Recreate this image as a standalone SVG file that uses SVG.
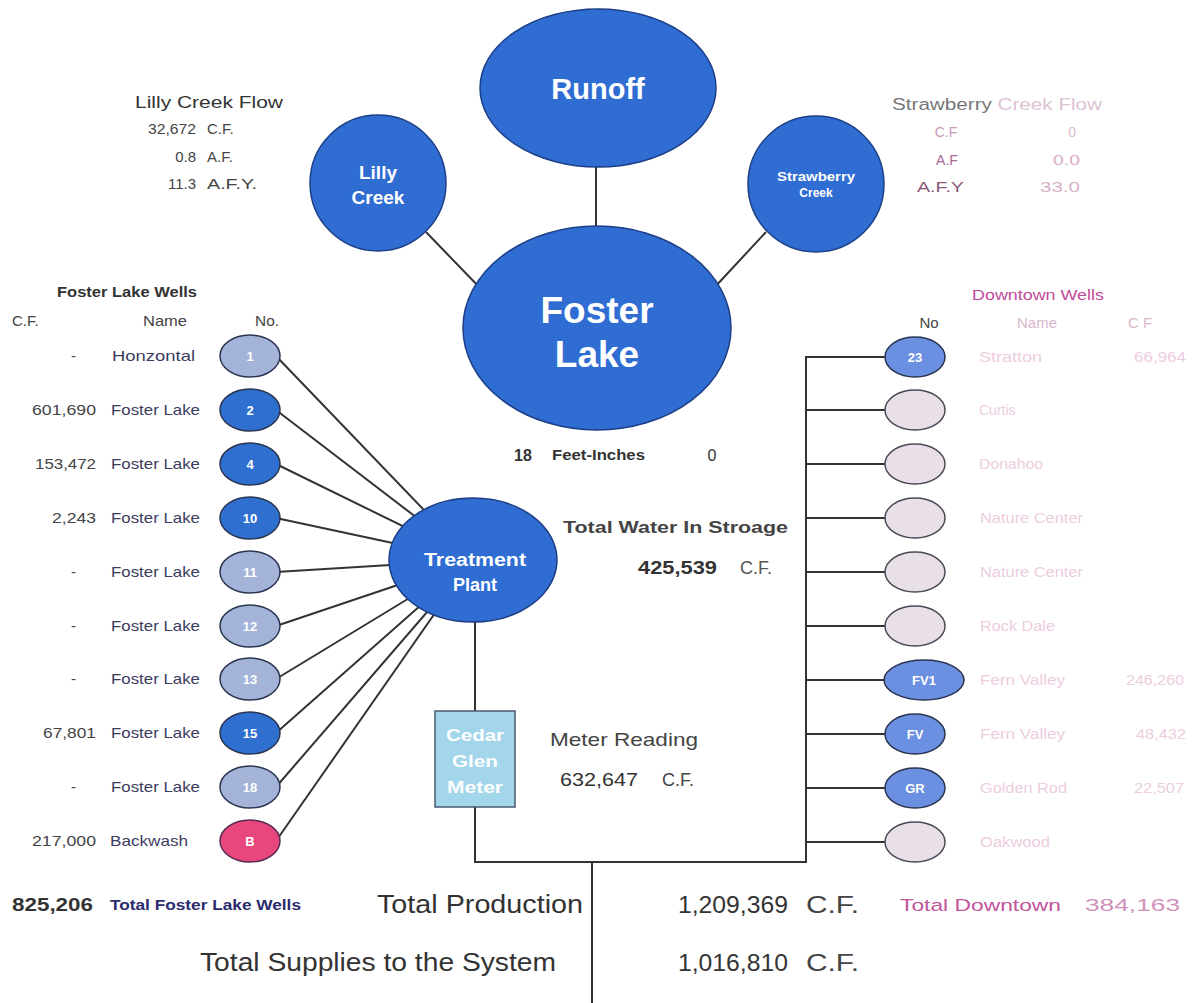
<svg xmlns="http://www.w3.org/2000/svg" width="1194" height="1003" viewBox="0 0 1194 1003">
<style>
text{font-family:"Liberation Sans",Arial,sans-serif;}
.big{fill:#2f6dd3;stroke:#1d3f86;stroke-width:1.5;}
.wt{fill:#fff;font-weight:bold;text-anchor:middle;}
.ln{stroke:#333;stroke-width:2;fill:none;}
.wb{fill:#2f6fd0;stroke:#2a3550;stroke-width:1.5;}
.wg{fill:#a3b4d8;stroke:#2a3550;stroke-width:1.5;}
.wp{fill:#e8477d;stroke:#5a2a55;stroke-width:1.5;}
.dl{fill:#e9dfe8;stroke:#4a4a55;stroke-width:1.5;}
.dm{fill:#6b90e2;stroke:#2a3550;stroke-width:1.5;}
.nm{font-size:15px;fill:#3b3b5e;}
.cf{font-size:15px;fill:#444;text-anchor:end;}
.fd{font-size:14px;fill:#edcde0;}
.fv{font-size:14px;fill:#edcde0;text-anchor:end;}
.wn{font-size:13px;fill:#fff;font-weight:bold;text-anchor:middle;}
.dk{fill:#333;}
</style>
<rect width="1194" height="1003" fill="#fff"/>

<g id="connectors">
  <line class="ln" x1="596" y1="160" x2="596" y2="230"/>
  <line class="ln" x1="426" y1="232" x2="482" y2="290"/>
  <line class="ln" x1="766" y1="232" x2="714" y2="288"/>
  <line class="ln" x1="276" y1="356" x2="472" y2="560"/>
  <line class="ln" x1="276" y1="410" x2="472" y2="560"/>
  <line class="ln" x1="276" y1="464" x2="472" y2="560"/>
  <line class="ln" x1="276" y1="518" x2="472" y2="560"/>
  <line class="ln" x1="276" y1="572" x2="472" y2="560"/>
  <line class="ln" x1="276" y1="626" x2="472" y2="560"/>
  <line class="ln" x1="276" y1="679" x2="472" y2="560"/>
  <line class="ln" x1="276" y1="733" x2="472" y2="560"/>
  <line class="ln" x1="276" y1="787" x2="472" y2="560"/>
  <line class="ln" x1="276" y1="841" x2="472" y2="560"/>
  <polyline class="ln" points="475,600 475,862 806,862 806,357 888,357"/>
  <line class="ln" x1="806" y1="410" x2="888" y2="410"/>
  <line class="ln" x1="806" y1="464" x2="888" y2="464"/>
  <line class="ln" x1="806" y1="518" x2="888" y2="518"/>
  <line class="ln" x1="806" y1="572" x2="888" y2="572"/>
  <line class="ln" x1="806" y1="626" x2="888" y2="626"/>
  <line class="ln" x1="806" y1="680" x2="888" y2="680"/>
  <line class="ln" x1="806" y1="734" x2="888" y2="734"/>
  <line class="ln" x1="806" y1="788" x2="888" y2="788"/>
  <line class="ln" x1="806" y1="842" x2="888" y2="842"/>
  <line class="ln" x1="592" y1="862" x2="592" y2="1003"/>
</g>

<g id="runoff"><ellipse class="big" cx="598" cy="88" rx="118" ry="79"/><text class="wt" x="598" y="99" font-size="29">Runoff</text></g>
<g id="lilly-creek"><ellipse class="big" cx="378" cy="183" rx="68" ry="68"/><text class="wt" x="378" y="179" font-size="19">Lilly</text><text class="wt" x="378" y="204" font-size="19">Creek</text></g>
<g id="strawberry-creek"><ellipse class="big" cx="816" cy="184" rx="68" ry="68"/><text class="wt" x="816" y="181" font-size="12" textLength="78" lengthAdjust="spacingAndGlyphs">Strawberry</text><text class="wt" x="816" y="197" font-size="12">Creek</text></g>
<g id="foster-lake"><ellipse class="big" cx="597" cy="328" rx="134" ry="102"/><text class="wt" x="597" y="323" font-size="37">Foster</text><text class="wt" x="597" y="367" font-size="37">Lake</text></g>
<g id="treatment-plant"><ellipse class="big" cx="473" cy="560" rx="84" ry="62"/><text class="wt" x="475" y="566" font-size="18" textLength="102" lengthAdjust="spacingAndGlyphs">Treatment</text><text class="wt" x="475" y="591" font-size="18">Plant</text></g>
<g id="cedar-glen-meter"><rect x="435" y="711" width="80" height="96" fill="#a3d6ea" stroke="#4a5a70" stroke-width="1.5"/><text class="wt" x="475" y="741" font-size="17" fill="#eef8fc" textLength="58" lengthAdjust="spacingAndGlyphs">Cedar</text><text class="wt" x="475" y="767" font-size="17" fill="#eef8fc" textLength="46" lengthAdjust="spacingAndGlyphs">Glen</text><text class="wt" x="475" y="793" font-size="17" fill="#eef8fc" textLength="56" lengthAdjust="spacingAndGlyphs">Meter</text></g>

<g id="lilly-flow">
  <text x="135" y="108" font-size="16" class="dk" textLength="148" lengthAdjust="spacingAndGlyphs">Lilly Creek Flow</text>
  <text x="196" y="134" font-size="15" fill="#444" text-anchor="end" textLength="48" lengthAdjust="spacingAndGlyphs">32,672</text><text x="207" y="134" font-size="15" fill="#444">C.F.</text>
  <text x="196" y="162" font-size="15" fill="#444" text-anchor="end">0.8</text><text x="207" y="162" font-size="15" fill="#444">A.F.</text>
  <text x="196" y="189" font-size="15" fill="#444" text-anchor="end">11.3</text><text x="207" y="189" font-size="15" fill="#444" textLength="50" lengthAdjust="spacingAndGlyphs">A.F.Y.</text>
</g>
<g id="strawberry-flow">
  <text x="892" y="110" font-size="16" fill="#777" textLength="210" lengthAdjust="spacingAndGlyphs">Strawberry <tspan fill="#dcc2d4">Creek Flow</tspan></text>
  <text x="946" y="137" font-size="14" fill="#c99ab8" text-anchor="middle">C.F</text><text x="1076" y="137" font-size="14" fill="#dcb8cc" text-anchor="end">0</text>
  <text x="947" y="165" font-size="14" fill="#a66a90" text-anchor="middle">A.F</text><text x="1080" y="165" font-size="14" fill="#d8b0c8" text-anchor="end" textLength="27" lengthAdjust="spacingAndGlyphs">0.0</text>
  <text x="917" y="192" font-size="14" fill="#8a5a7a" textLength="47" lengthAdjust="spacingAndGlyphs">A.F.Y</text><text x="1080" y="192" font-size="14" fill="#d8b0c8" text-anchor="end" textLength="40" lengthAdjust="spacingAndGlyphs">33.0</text>
</g>

<g id="foster-wells-header">
  <text x="57" y="297" font-size="15" fill="#333" font-weight="bold" textLength="140" lengthAdjust="spacingAndGlyphs">Foster Lake Wells</text>
  <text x="12" y="326" font-size="15" fill="#444">C.F.</text>
  <text x="143" y="326" font-size="15" fill="#444" textLength="44" lengthAdjust="spacingAndGlyphs">Name</text>
  <text x="255" y="326" font-size="15" fill="#444" textLength="24" lengthAdjust="spacingAndGlyphs">No.</text>
</g>
<g id="well-1"><text class="cf" x="76" y="361">-</text><text class="nm" x="112" y="361" textLength="83" lengthAdjust="spacingAndGlyphs">Honzontal</text><ellipse class="wg" cx="250" cy="356" rx="30" ry="21" fill="#b1bfe0"/><text class="wn" x="250" y="361">1</text></g>
<g id="well-2"><text class="cf" x="96" y="415" textLength="64" lengthAdjust="spacingAndGlyphs">601,690</text><text class="nm" x="111" y="415" textLength="89" lengthAdjust="spacingAndGlyphs">Foster Lake</text><ellipse class="wb" cx="250" cy="410" rx="30" ry="21"/><text class="wn" x="250" y="415">2</text></g>
<g id="well-4"><text class="cf" x="96" y="469" textLength="61" lengthAdjust="spacingAndGlyphs">153,472</text><text class="nm" x="111" y="469" textLength="89" lengthAdjust="spacingAndGlyphs">Foster Lake</text><ellipse class="wb" cx="250" cy="464" rx="30" ry="21"/><text class="wn" x="250" y="469">4</text></g>
<g id="well-10"><text class="cf" x="96" y="523" textLength="44" lengthAdjust="spacingAndGlyphs">2,243</text><text class="nm" x="111" y="523" textLength="89" lengthAdjust="spacingAndGlyphs">Foster Lake</text><ellipse class="wb" cx="250" cy="518" rx="30" ry="21"/><text class="wn" x="250" y="523">10</text></g>
<g id="well-11"><text class="cf" x="76" y="577">-</text><text class="nm" x="111" y="577" textLength="89" lengthAdjust="spacingAndGlyphs">Foster Lake</text><ellipse class="wg" cx="250" cy="572" rx="30" ry="21"/><text class="wn" x="250" y="577">11</text></g>
<g id="well-12"><text class="cf" x="76" y="631">-</text><text class="nm" x="111" y="631" textLength="89" lengthAdjust="spacingAndGlyphs">Foster Lake</text><ellipse class="wg" cx="250" cy="626" rx="30" ry="21"/><text class="wn" x="250" y="631">12</text></g>
<g id="well-13"><text class="cf" x="76" y="684">-</text><text class="nm" x="111" y="684" textLength="89" lengthAdjust="spacingAndGlyphs">Foster Lake</text><ellipse class="wg" cx="250" cy="679" rx="30" ry="21"/><text class="wn" x="250" y="684">13</text></g>
<g id="well-15"><text class="cf" x="96" y="738" textLength="53" lengthAdjust="spacingAndGlyphs">67,801</text><text class="nm" x="111" y="738" textLength="89" lengthAdjust="spacingAndGlyphs">Foster Lake</text><ellipse class="wb" cx="250" cy="733" rx="30" ry="21"/><text class="wn" x="250" y="738">15</text></g>
<g id="well-18"><text class="cf" x="76" y="792">-</text><text class="nm" x="111" y="792" textLength="89" lengthAdjust="spacingAndGlyphs">Foster Lake</text><ellipse class="wg" cx="250" cy="787" rx="30" ry="21"/><text class="wn" x="250" y="792">18</text></g>
<g id="well-b"><text class="cf" x="96" y="846" textLength="64" lengthAdjust="spacingAndGlyphs">217,000</text><text class="nm" x="110" y="846" textLength="78" lengthAdjust="spacingAndGlyphs">Backwash</text><ellipse class="wp" cx="250" cy="841" rx="30" ry="21"/><text class="wn" x="250" y="846">B</text></g>

<g id="downtown-header">
  <text x="972" y="300" font-size="15" fill="#c04a98" textLength="132" lengthAdjust="spacingAndGlyphs">Downtown Wells</text>
  <text x="929" y="328" font-size="15" fill="#444" text-anchor="middle">No</text>
  <text x="1037" y="328" font-size="15" fill="#d8b8cc" text-anchor="middle">Name</text>
  <text x="1140" y="328" font-size="15" fill="#d8b8cc" text-anchor="middle">C F</text>
</g>
<g id="dw-23"><ellipse class="dm" cx="915" cy="357" rx="30" ry="20"/><text class="wn" x="915" y="362">23</text><text class="fd" x="979" y="362" textLength="63" lengthAdjust="spacingAndGlyphs">Stratton</text><text class="fv" x="1186" y="362" textLength="52" lengthAdjust="spacingAndGlyphs">66,964</text></g>
<g id="dw-curtis"><ellipse class="dl" cx="915" cy="410" rx="30" ry="20"/><text class="fd" x="979" y="415">Curtis</text></g>
<g id="dw-donahoo"><ellipse class="dl" cx="915" cy="464" rx="30" ry="20"/><text class="fd" x="979" y="469" textLength="64" lengthAdjust="spacingAndGlyphs">Donahoo</text></g>
<g id="dw-nature1"><ellipse class="dl" cx="915" cy="518" rx="30" ry="20"/><text class="fd" x="980" y="523" textLength="103" lengthAdjust="spacingAndGlyphs">Nature Center</text></g>
<g id="dw-nature2"><ellipse class="dl" cx="915" cy="572" rx="30" ry="20"/><text class="fd" x="980" y="577" textLength="103" lengthAdjust="spacingAndGlyphs">Nature Center</text></g>
<g id="dw-rockdale"><ellipse class="dl" cx="915" cy="626" rx="30" ry="20"/><text class="fd" x="980" y="631" textLength="75" lengthAdjust="spacingAndGlyphs">Rock Dale</text></g>
<g id="dw-fv1"><ellipse class="dm" cx="924" cy="680" rx="40" ry="20"/><text class="wn" x="924" y="685" font-size="14">FV1</text><text class="fd" x="980" y="685" textLength="85" lengthAdjust="spacingAndGlyphs">Fern Valley</text><text class="fv" x="1184" y="685" textLength="58" lengthAdjust="spacingAndGlyphs">246,260</text></g>
<g id="dw-fv"><ellipse class="dm" cx="915" cy="734" rx="30" ry="20"/><text class="wn" x="915" y="739">FV</text><text class="fd" x="980" y="739" textLength="85" lengthAdjust="spacingAndGlyphs">Fern Valley</text><text class="fv" x="1186" y="739" textLength="50" lengthAdjust="spacingAndGlyphs">48,432</text></g>
<g id="dw-gr"><ellipse class="dm" cx="915" cy="788" rx="30" ry="20"/><text class="wn" x="915" y="793" font-size="14">GR</text><text class="fd" x="980" y="793" textLength="87" lengthAdjust="spacingAndGlyphs">Golden Rod</text><text class="fv" x="1184" y="793" textLength="50" lengthAdjust="spacingAndGlyphs">22,507</text></g>
<g id="dw-oakwood"><ellipse class="dl" cx="915" cy="842" rx="30" ry="20"/><text class="fd" x="980" y="847" textLength="70" lengthAdjust="spacingAndGlyphs">Oakwood</text></g>

<g id="storage-info">
  <text x="523" y="461" font-size="16" font-weight="bold" fill="#333" text-anchor="middle">18</text>
  <text x="552" y="460" font-size="14" font-weight="bold" fill="#333" textLength="93" lengthAdjust="spacingAndGlyphs">Feet-Inches</text>
  <text x="712" y="461" font-size="16" fill="#333" text-anchor="middle">0</text>
  <text x="563" y="533" font-size="17" font-weight="bold" fill="#444" textLength="225" lengthAdjust="spacingAndGlyphs">Total Water In Stroage</text>
  <text x="638" y="574" font-size="18" font-weight="bold" fill="#333" textLength="79" lengthAdjust="spacingAndGlyphs">425,539</text>
  <text x="740" y="574" font-size="18" fill="#555">C.F.</text>
  <text x="550" y="746" font-size="19" fill="#444" textLength="148" lengthAdjust="spacingAndGlyphs">Meter Reading</text>
  <text x="560" y="786" font-size="18" fill="#333" textLength="78" lengthAdjust="spacingAndGlyphs">632,647</text>
  <text x="662" y="786" font-size="18" fill="#444">C.F.</text>
</g>

<g id="totals">
  <text x="12" y="911" font-size="18" font-weight="bold" fill="#333" textLength="81" lengthAdjust="spacingAndGlyphs">825,206</text>
  <text x="110" y="910" font-size="14" font-weight="bold" fill="#2b2b6e" textLength="191" lengthAdjust="spacingAndGlyphs">Total Foster Lake Wells</text>
  <text x="377" y="913" font-size="25" fill="#333" textLength="206" lengthAdjust="spacingAndGlyphs">Total Production</text>
  <text x="678" y="913" font-size="23" fill="#333" textLength="110" lengthAdjust="spacingAndGlyphs">1,209,369</text>
  <text x="806" y="913" font-size="23" fill="#444" textLength="53" lengthAdjust="spacingAndGlyphs">C.F.</text>
  <text x="900" y="911" font-size="17" fill="#c0559a" textLength="161" lengthAdjust="spacingAndGlyphs">Total Downtown</text>
  <text x="1085" y="911" font-size="17" fill="#d090bb" textLength="95" lengthAdjust="spacingAndGlyphs">384,163</text>
  <text x="200" y="971" font-size="25" fill="#333" textLength="356" lengthAdjust="spacingAndGlyphs">Total Supplies to the System</text>
  <text x="678" y="971" font-size="23" fill="#333" textLength="110" lengthAdjust="spacingAndGlyphs">1,016,810</text>
  <text x="806" y="971" font-size="23" fill="#444" textLength="53" lengthAdjust="spacingAndGlyphs">C.F.</text>
</g>
</svg>
